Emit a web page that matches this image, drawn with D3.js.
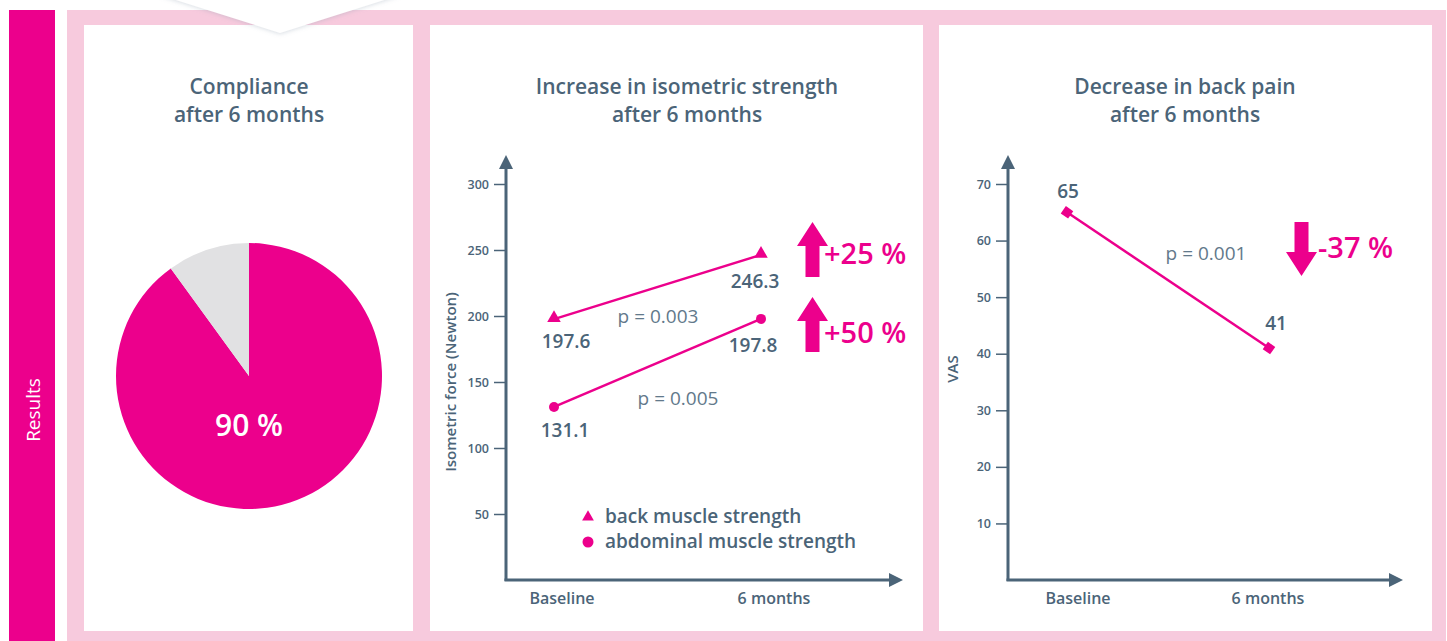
<!DOCTYPE html>
<html>
<head>
<meta charset="utf-8">
<script src="https://cdn.jsdelivr.net/npm/d3@7"></script>
<style>
  body { margin: 0; background: #fff; }
  text { font-family: "Open Sans", sans-serif; }
</style>
</head>
<body>
<div id="chart"></div>
<script>
// ---- data ----
const complianceValues = [90, 10];
const complianceLabel = "90 %";

const timepoints = ["Baseline", "6 months"];
const backStrength = [197.6, 246.3];
const abdominalStrength = [131.1, 197.8];
const strengthTicks = [50, 100, 150, 200, 250, 300];
const strengthPValues = ["p = 0.003", "p = 0.005"];
const strengthChanges = ["+25 %", "+50 %"];
const strengthLegend = ["back muscle strength", "abdominal muscle strength"];

const painVAS = [65, 41];
const painTicks = [10, 20, 30, 40, 50, 60, 70];
const painPValue = "p = 0.001";
const painChange = "-37 %";

const titles = [
    ["Compliance", "after 6 months"],
    ["Increase in isometric strength", "after 6 months"],
    ["Decrease in back pain", "after 6 months"]
];

// ---- styles ----
const magenta = "#ec008c";
const pink = "#f7cadd";
const slate = "#4b6478";
const slateLight = "#62798b";
const grey = "#e1e1e3";

const W = 1447, H = 641;

const svg = d3.select("#chart").append("svg")
    .attr("width", W)
    .attr("height", H);

const defs = svg.append("defs");
const shadow = defs.append("filter").attr("id", "shadow")
    .attr("x", "-20%").attr("y", "-50%").attr("width", "140%").attr("height", "200%");
shadow.append("feDropShadow")
    .attr("dx", 0).attr("dy", 1).attr("stdDeviation", 2)
    .attr("flood-color", "#90a0b0").attr("flood-opacity", 0.35);

// side bar + frame
svg.append("rect").attr("x", 9).attr("y", 10).attr("width", 46).attr("height", H - 10).attr("fill", magenta);
svg.append("text")
    .attr("transform", "translate(40,410) rotate(-90)")
    .attr("text-anchor", "middle")
    .attr("fill", "#fff")
    .attr("font-size", 19)
    .text("Results");

svg.append("rect").attr("x", 67).attr("y", 10).attr("width", W - 67 - 1).attr("height", H - 10).attr("fill", pink);

const panels = [
    {x: 84, w: 329, tx: 249},
    {x: 430, w: 493, tx: 687},
    {x: 939, w: 493, tx: 1185}
];
panels.forEach(p => {
    svg.append("rect").attr("x", p.x).attr("y", 25).attr("width", p.w).attr("height", 606).attr("fill", "#fff");
});

// chevron tab from the section above
svg.append("path")
    .attr("d", "M160,-5 L280,33 L400,-5 Z")
    .attr("fill", "#fff")
    .attr("filter", "url(#shadow)");

// titles
titles.forEach((t, i) => {
    const cx = panels[i].tx;
    const g = svg.append("text")
        .attr("text-anchor", "middle")
        .attr("fill", slate)
        .attr("font-size", 21)
        .attr("font-weight", 600);
    g.append("tspan").attr("x", cx).attr("y", 94).text(t[0]);
    g.append("tspan").attr("x", cx).attr("y", 122).text(t[1]);
});

// ---- pie ----
const pieG = svg.append("g").attr("transform", "translate(249,376)");
const pie = d3.pie().sort(null).value(d => d);
const arc = d3.arc().innerRadius(0).outerRadius(133);
pieG.selectAll("path")
    .data(pie(complianceValues))
    .join("path")
    .attr("d", arc)
    .attr("fill", (d, i) => i === 0 ? magenta : grey);
pieG.append("text")
    .attr("x", 0).attr("y", 60)
    .attr("text-anchor", "middle")
    .attr("fill", "#fff")
    .attr("font-size", 30)
    .attr("font-weight", 600)
    .text(complianceLabel);

// ---- shared axis helper ----
function drawAxes(g, y, ticks, x0, x1, yTop, label, labelY) {
    const axis = d3.axisLeft(y).tickValues(ticks).tickSize(12).tickPadding(5);
    const gy = g.append("g").attr("transform", `translate(${x0},0)`).call(axis);
    gy.select(".domain").remove();
    gy.selectAll(".tick line").attr("stroke", slate).attr("stroke-width", 1.5);
    gy.selectAll(".tick text")
        .attr("fill", slate)
        .attr("font-size", 12.5)
        .attr("font-weight", 600)
        .attr("font-family", "Open Sans, sans-serif");

    const y0 = y(0);
    g.append("line").attr("x1", x0).attr("x2", x0).attr("y1", y0 + 1).attr("y2", yTop + 10)
        .attr("stroke", slate).attr("stroke-width", 3);
    g.append("path")
        .attr("d", `M${x0 - 7},${yTop + 14} L${x0},${yTop} L${x0 + 7},${yTop + 14} Z`)
        .attr("fill", slate);
    g.append("line").attr("x1", x0 - 1.5).attr("x2", x1 - 10).attr("y1", y0).attr("y2", y0)
        .attr("stroke", slate).attr("stroke-width", 3);
    g.append("path")
        .attr("d", `M${x1 - 14},${y0 - 7} L${x1},${y0} L${x1 - 14},${y0 + 7} Z`)
        .attr("fill", slate);

    g.append("text")
        .attr("transform", `translate(${x0 - 50},${labelY}) rotate(-90)`)
        .attr("text-anchor", "middle")
        .attr("fill", slate)
        .attr("font-size", 15)
        .attr("font-weight", 600)
        .text(label);
}

function bigArrow(g, x, yTop, yBot, up) {
    const hw = 15.5, sw = 7, hh = 24;
    let d;
    if (up) {
        d = `M${x},${yTop} L${x + hw},${yTop + hh} L${x + sw},${yTop + hh} L${x + sw},${yBot} L${x - sw},${yBot} L${x - sw},${yTop + hh} L${x - hw},${yTop + hh} Z`;
    } else {
        d = `M${x},${yBot} L${x + hw},${yBot - hh} L${x + sw},${yBot - hh} L${x + sw},${yTop} L${x - sw},${yTop} L${x - sw},${yBot - hh} L${x - hw},${yBot - hh} Z`;
    }
    g.append("path").attr("d", d).attr("fill", magenta);
}

// ---- strength chart ----
const g2 = svg.append("g");
const xS = d3.scalePoint().domain(timepoints).range([554, 761]);
const yS = d3.scaleLinear().domain([0, 300]).range([580, 184]);

drawAxes(g2, yS, strengthTicks, 506, 903, 155, "Isometric force (Newton)", 382);

g2.selectAll(".xlab")
    .data(timepoints)
    .join("text")
    .attr("class", "xlab")
    .attr("x", (d, i) => xS(d) + (i === 0 ? 8 : 13))
    .attr("y", 604)
    .attr("text-anchor", "middle")
    .attr("fill", slate)
    .attr("font-size", 16)
    .attr("font-weight", 600)
    .text(d => d);

const line = d3.line().x((d, i) => xS(timepoints[i])).y(d => yS(d));

g2.append("path").datum(backStrength).attr("d", line)
    .attr("fill", "none").attr("stroke", magenta).attr("stroke-width", 2.5);
g2.append("path").datum(abdominalStrength).attr("d", line)
    .attr("fill", "none").attr("stroke", magenta).attr("stroke-width", 2.5);

const tri = d3.symbol().type(d3.symbolTriangle).size(80);
g2.selectAll(".tri")
    .data(backStrength)
    .join("path")
    .attr("class", "tri")
    .attr("transform", (d, i) => `translate(${xS(timepoints[i])},${yS(d) - 1})`)
    .attr("d", tri)
    .attr("fill", magenta);
g2.selectAll(".dot")
    .data(abdominalStrength)
    .join("circle")
    .attr("class", "dot")
    .attr("cx", (d, i) => xS(timepoints[i]))
    .attr("cy", d => yS(d))
    .attr("r", 5)
    .attr("fill", magenta);

// value labels
const valStyle = sel => sel.attr("text-anchor", "middle").attr("fill", slate)
    .attr("font-size", 19).attr("font-weight", 600);
g2.selectAll(".vb")
    .data(backStrength)
    .join("text").attr("class", "vb")
    .attr("x", (d, i) => xS(timepoints[i]) + (i === 0 ? 12 : -6))
    .attr("y", (d, i) => yS(d) + (i === 0 ? 29 : 33))
    .call(valStyle)
    .text(d => d.toFixed(1));
g2.selectAll(".va")
    .data(abdominalStrength)
    .join("text").attr("class", "va")
    .attr("x", (d, i) => xS(timepoints[i]) + (i === 0 ? 11 : -8))
    .attr("y", (d, i) => yS(d) + (i === 0 ? 30 : 33))
    .call(valStyle)
    .text(d => d.toFixed(1));

// p-values
g2.append("text").attr("x", 658).attr("y", 323).attr("text-anchor", "middle")
    .attr("fill", slateLight).attr("font-size", 19).text(strengthPValues[0]);
g2.append("text").attr("x", 678).attr("y", 405).attr("text-anchor", "middle")
    .attr("fill", slateLight).attr("font-size", 19).text(strengthPValues[1]);

// change arrows
bigArrow(g2, 812.5, 222, 277, true);
bigArrow(g2, 812.5, 297, 352, true);
g2.append("text").attr("x", 824).attr("y", 264).attr("fill", magenta)
    .attr("font-size", 29).attr("font-weight", 600).text(strengthChanges[0]);
g2.append("text").attr("x", 824).attr("y", 343).attr("fill", magenta)
    .attr("font-size", 29).attr("font-weight", 600).text(strengthChanges[1]);

// legend
g2.append("path").attr("transform", "translate(588,517)")
    .attr("d", d3.symbol().type(d3.symbolTriangle).size(60)).attr("fill", magenta);
g2.append("circle").attr("cx", 588).attr("cy", 542).attr("r", 5.5).attr("fill", magenta);
strengthLegend.forEach((t, i) => {
    g2.append("text").attr("x", 605).attr("y", 523 + i * 25)
        .attr("fill", slate).attr("font-size", 19).attr("font-weight", 600).text(t);
});

// ---- pain chart ----
const g3 = svg.append("g");
const xP = d3.scalePoint().domain(timepoints).range([1067, 1269]);
const yP = d3.scaleLinear().domain([0, 70]).range([580, 184]);

drawAxes(g3, yP, painTicks, 1008, 1403, 155, "VAS", 369);

g3.selectAll(".xlab")
    .data(timepoints)
    .join("text")
    .attr("class", "xlab")
    .attr("x", (d, i) => xP(d) + (i === 0 ? 11 : -1))
    .attr("y", 604)
    .attr("text-anchor", "middle")
    .attr("fill", slate)
    .attr("font-size", 16)
    .attr("font-weight", 600)
    .text(d => d);

const lineP = d3.line().x((d, i) => xP(timepoints[i])).y(d => yP(d));
g3.append("path").datum(painVAS).attr("d", lineP)
    .attr("fill", "none").attr("stroke", magenta).attr("stroke-width", 2.5);
g3.selectAll(".dia")
    .data(painVAS)
    .join("rect").attr("class", "dia")
    .attr("x", -4.5).attr("y", -4.5).attr("width", 9).attr("height", 9)
    .attr("transform", (d, i) => `translate(${xP(timepoints[i])},${yP(d)}) rotate(35)`)
    .attr("fill", magenta);
g3.selectAll(".vp")
    .data(painVAS)
    .join("text").attr("class", "vp")
    .attr("x", (d, i) => xP(timepoints[i]) + (i === 0 ? 1 : 7))
    .attr("y", (d, i) => yP(d) - (i === 0 ? 14 : 18))
    .call(valStyle)
    .text(d => d);

g3.append("text").attr("x", 1206).attr("y", 260).attr("text-anchor", "middle")
    .attr("fill", slateLight).attr("font-size", 19).text(painPValue);

bigArrow(g3, 1301.5, 222, 276, false);
g3.append("text").attr("x", 1318).attr("y", 258).attr("fill", magenta)
    .attr("font-size", 29).attr("font-weight", 600).text(painChange);
</script>
</body>
</html>
